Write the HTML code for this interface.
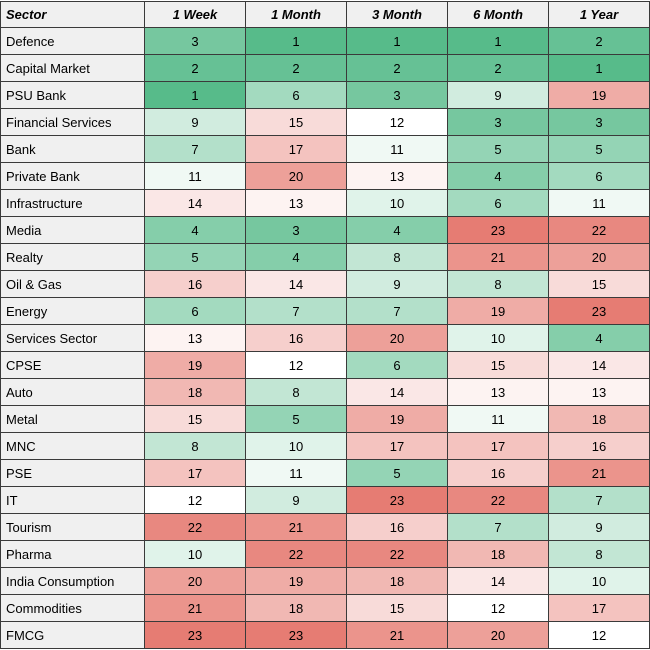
<!DOCTYPE html>
<html><head><meta charset="utf-8"><style>
body{margin:0;width:650px;height:650px;background:#fff;font-family:"Liberation Sans",Arial,sans-serif;font-size:13px;color:#000}
#t{position:absolute;left:0;top:0;width:650px;height:650px}
.c{position:absolute;box-sizing:border-box;border-right:1px solid #3a3a3a;border-bottom:1px solid #3a3a3a;display:flex;align-items:center;justify-content:center;white-space:nowrap}
.s{justify-content:flex-start;padding-left:5px;background:#f0f0f0}
.h{font-weight:bold;font-style:italic;background:#f0f0f0}
</style></head><body>
<div id="t"></div>
<script>
const headers=["Sector","1 Week","1 Month","3 Month","6 Month","1 Year"];
const sectors=["Defence","Capital Market","PSU Bank","Financial Services","Bank","Private Bank","Infrastructure","Media","Realty","Oil & Gas","Energy","Services Sector","CPSE","Auto","Metal","MNC","PSE","IT","Tourism","Pharma","India Consumption","Commodities","FMCG"];
const week=[3,2,1,9,7,11,14,4,5,16,6,13,19,18,15,8,17,12,22,10,20,21,23];
const month1=[1,2,6,15,17,20,13,3,4,14,7,16,12,8,5,10,11,9,21,22,19,18,23];
const month3=[1,2,3,12,11,13,10,4,8,9,7,20,6,14,19,17,5,23,16,22,18,15,21];
const month6=[1,2,9,3,5,4,6,23,21,8,19,10,15,13,11,17,16,22,7,18,14,12,20];
const year1=[2,1,19,3,5,6,11,22,20,15,23,4,14,13,18,16,21,7,9,8,10,17,12];
const series=[week,month1,month3,month6,year1];
const t=document.getElementById('t');
const colX=[0,145,246,347,448,549,650];
const top0=1,hdrH=27,rowH=27;
function mix(a,b,f){return a.map((v,i)=>Math.round(v+(b[i]-v)*f));}
function color(v){const g=[87,187,138],w=[255,255,255],r=[230,124,115];
 const c=v<=12?mix(g,w,(v-1)/11):mix(w,r,(v-12)/11);return `rgb(${c})`;}
function cell(x,y,w,h,txt,cls,bg){const d=document.createElement('div');d.className='c '+cls;
 d.style.left=x+'px';d.style.top=y+'px';d.style.width=w+'px';d.style.height=h+'px';
 if(x===0)d.style.borderLeft='1px solid #3a3a3a';if(y===top0)d.style.borderTop='1px solid #3a3a3a';
 if(bg)d.style.background=bg;d.textContent=txt;t.appendChild(d);return d;}
headers.forEach((h,i)=>{const d=cell(colX[i],top0,colX[i+1]-colX[i],hdrH,h,'h'+(i===0?' s':''));
 
 });
sectors.forEach((s,r)=>{const y=top0+hdrH+r*rowH-1+1;
 const d=cell(0,y,145,rowH,s,'s');
 
 
 series.forEach((arr,k)=>{const v=arr[r];const e=cell(colX[k+1],y,colX[k+2]-colX[k+1],rowH,String(v),'',color(v));
  
  });});
</script>
</body></html>
